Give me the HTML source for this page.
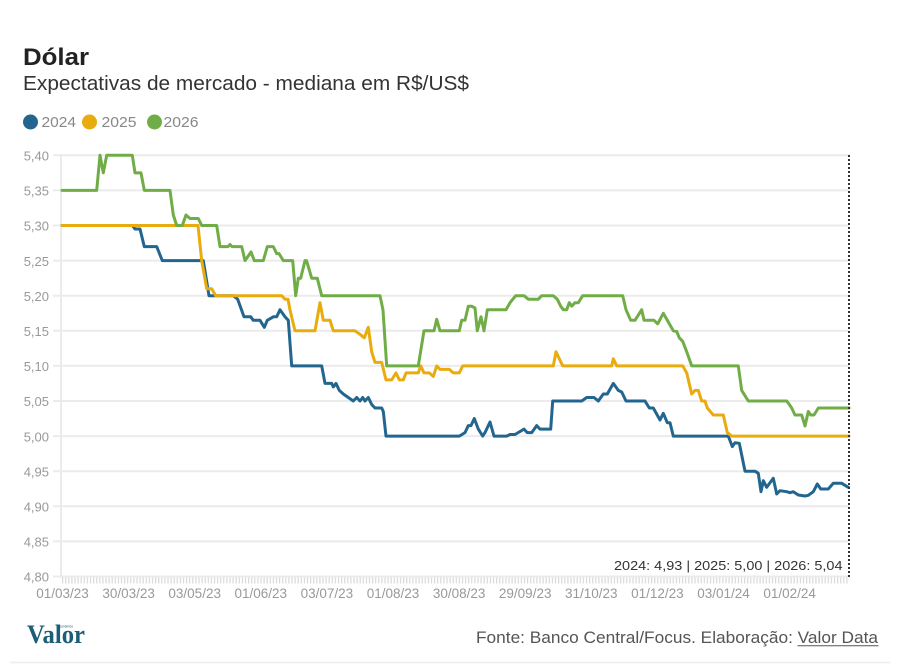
<!DOCTYPE html>
<html><head><meta charset="utf-8"><style>
html,body{margin:0;padding:0;background:#fff;}
svg{display:block;}
text{font-family:"Liberation Sans","DejaVu Sans",sans-serif;}
</style></head><body>
<svg width="919" height="665" viewBox="0 0 919 665" xmlns="http://www.w3.org/2000/svg">
<defs>
<pattern id="tk" x="62" y="0" width="3.1" height="10" patternUnits="userSpaceOnUse"><rect x="0" y="0" width="1.2" height="10" fill="#d9d9d9"/></pattern>
</defs>
<rect width="919" height="665" fill="#fff"/>
<text x="23" y="65" font-size="24" font-weight="bold" fill="#222" textLength="66" lengthAdjust="spacingAndGlyphs">Dólar</text>
<text x="23" y="90" font-size="20" fill="#333" textLength="446" lengthAdjust="spacingAndGlyphs">Expectativas de mercado - mediana em R$/US$</text>
<circle cx="30.5" cy="122" r="7.5" fill="#22668f"/>
<text x="41.5" y="127" font-size="15" fill="#888" textLength="34.5" lengthAdjust="spacingAndGlyphs">2024</text>
<circle cx="89.5" cy="122" r="7.5" fill="#e9ac0f"/>
<text x="101.5" y="127" font-size="15" fill="#888" textLength="35" lengthAdjust="spacingAndGlyphs">2025</text>
<circle cx="154.5" cy="122" r="7.5" fill="#70ad47"/>
<text x="163.5" y="127" font-size="15" fill="#888" textLength="35" lengthAdjust="spacingAndGlyphs">2026</text>
<g stroke="#ebebeb" stroke-width="2">
<line x1="53" x2="849" y1="155.3" y2="155.3"/>
<line x1="53" x2="849" y1="190.4" y2="190.4"/>
<line x1="53" x2="849" y1="225.5" y2="225.5"/>
<line x1="53" x2="849" y1="260.6" y2="260.6"/>
<line x1="53" x2="849" y1="295.7" y2="295.7"/>
<line x1="53" x2="849" y1="330.8" y2="330.8"/>
<line x1="53" x2="849" y1="365.9" y2="365.9"/>
<line x1="53" x2="849" y1="401" y2="401"/>
<line x1="53" x2="849" y1="436.1" y2="436.1"/>
<line x1="53" x2="849" y1="471.2" y2="471.2"/>
<line x1="53" x2="849" y1="506.3" y2="506.3"/>
<line x1="53" x2="849" y1="541.4" y2="541.4"/>
<line x1="53" x2="849" y1="576.5" y2="576.5"/>
<line x1="61" x2="61" y1="154" y2="578"/>
</g>
<rect x="62" y="577.5" width="787" height="6" fill="url(#tk)"/>
<g font-size="13" fill="#999" text-anchor="end">
<text x="49" y="160.5">5,40</text>
<text x="49" y="195.6">5,35</text>
<text x="49" y="230.7">5,30</text>
<text x="49" y="265.8">5,25</text>
<text x="49" y="300.9">5,20</text>
<text x="49" y="336">5,15</text>
<text x="49" y="371.1">5,10</text>
<text x="49" y="406.2">5,05</text>
<text x="49" y="441.3">5,00</text>
<text x="49" y="476.4">4,95</text>
<text x="49" y="511.5">4,90</text>
<text x="49" y="546.6">4,85</text>
<text x="49" y="581.7">4,80</text>
</g>
<g font-size="13.5" fill="#999" text-anchor="middle">
<text x="62.5" y="598">01/03/23</text>
<text x="128.6" y="598">30/03/23</text>
<text x="194.7" y="598">03/05/23</text>
<text x="260.8" y="598">01/06/23</text>
<text x="326.9" y="598">03/07/23</text>
<text x="393" y="598">01/08/23</text>
<text x="459.1" y="598">30/08/23</text>
<text x="525.2" y="598">29/09/23</text>
<text x="591.3" y="598">31/10/23</text>
<text x="657.4" y="598">01/12/23</text>
<text x="723.5" y="598">03/01/24</text>
<text x="789.6" y="598">01/02/24</text>
</g>
<g fill="none" stroke-width="3" stroke-linejoin="round" stroke-linecap="round">
<polyline stroke="#22668f" points="62,225.5 132.3,225.5 135,229 140,229 144.3,246.6 156.7,246.6 162.3,260.6 203.3,260.6 209,295.7 233.3,295.7 237.7,299.2 244,316.8 250.7,316.8 253.3,320.3 260,320.3 264.3,327.3 267.3,320.3 273.3,316.8 276.7,316.8 280,309.7 285,316.8 288.3,320.3 291.7,365.9 321.7,365.9 325,383.4 331.7,383.4 333.3,386.9 336,383.4 339.3,390.4 343.3,394 348.3,397.5 353.3,401 356.7,397.5 360,401 362.7,397.5 365,401 368.3,397.5 371.7,404.5 375,408 381.7,408 383.3,411.5 386,436.1 459.3,436.1 465,432.6 468.3,425.6 471,425.6 474.3,418.5 478.3,429.1 482.7,436.1 485,432.6 490,422 494,436.1 506.7,436.1 510,434.5 515,434.5 524,429.1 527.3,432.6 531.7,432.6 536.7,425.6 540,429.1 550.7,429.1 552.7,401 581.7,401 586.7,397.5 594,397.5 598.3,401 603.3,394 607.3,394 613.3,383.4 618.3,390.4 621.7,392 626,401 645,401 649.3,408 653.3,408 660,420 663.3,413.3 667.3,422.7 670,422.7 673.3,436.1 728.3,436.1 732.3,446.6 735,442.7 739.3,443.3 745,471.2 755,471.2 758.3,473.3 761,491.7 763.3,480.7 766.7,487.3 773.3,478.3 776.7,494 780,490.7 786.7,491.7 790,492.7 793.3,491.7 798.3,495 805,496 808.3,495.3 813.3,491.7 817.3,484 820.7,489 828.3,489 833.3,483.3 841.7,483.3 848.3,487.3"/>
<polyline stroke="#e9ac0f" points="62,225.5 198,225.5 201.7,260.6 206.7,288.7 211.7,288.7 215.7,295.7 281.7,295.7 285,299.2 288,299.2 290,310 295,330.8 315,330.8 320,302.7 323.3,320.3 330,320.3 333.3,330.8 355,330.8 360,334.3 364.3,337.8 368.3,327.3 371.7,351.8 375,362.4 381.7,362.4 386,379.9 391.7,379.9 396,372.9 399.3,379.9 403.3,379.9 406,372.9 418.3,372.9 420.7,365.9 424,372.9 429.3,372.9 433.3,376.4 436.7,365.9 440,369.4 449.3,369.4 453.3,372.9 459.3,372.9 462.7,365.9 553.3,365.9 556,351.8 562.7,365.9 611.7,365.9 613.3,358.8 616.7,365.9 682.7,365.9 686.7,372.9 691.7,394 695,390.4 698.3,390.4 701.7,401 705,401 707.3,408 713.3,415 723.3,415 727.3,432.6 731.7,436.1 849,436.1"/>
<polyline stroke="#70ad47" points="62,190.4 96.7,190.4 100,155.3 103.3,172.9 106.7,155.3 132.3,155.3 135,172.9 141,172.9 144.3,190.4 170,190.4 173.3,215 176.7,225.5 182.3,225.5 186,215 190,218.5 198.3,218.5 201.7,225.5 216.7,225.5 220,246.6 228,246.6 230,244.5 232,246.6 241.7,246.6 245,260.6 251,252 254.3,260.6 263.3,260.6 267.3,246.6 273.3,246.6 276.7,253.6 279,253.6 283.3,260.6 292.7,260.6 295.7,295.7 298.3,278.2 300.7,278.2 305,260.6 306.5,260.6 311.7,278.2 317.3,278.2 321.7,295.7 380,295.7 383,310 386.7,365.9 418.3,365.9 424,330.8 434,330.8 436.7,319.3 440,330.8 459.3,330.8 461.7,320.3 465,320.3 468.3,306.2 471.7,306.2 475,308 477.3,330.8 481,316.8 484,330.8 487.3,309.7 506,309.7 510,302.7 515.7,295.7 524,295.7 528.3,299.2 538.3,299.2 541.7,295.7 553.3,295.7 557.3,299.2 560.7,306.2 563.3,309.7 566.7,309.7 569.3,302.7 571.7,306.2 575,302.7 578.3,302.7 582.7,295.7 622.7,295.7 626,309.7 630.7,320.3 635,320.3 641.7,309.7 644,320.3 654,320.3 657.7,323.8 663.3,313.3 667.3,320.3 673.3,330.8 676.7,331.5 679.3,337.8 682.7,341.3 686.7,351.8 691.7,365.9 738.3,365.9 741.7,390.4 748.3,401 786.7,401 789.3,404.5 791.7,408 795,415 801.7,415 805,426 808.3,411.5 810.7,415 814,415 818.3,408 849,408"/>
</g>
<line x1="849" x2="849" y1="155" y2="578" stroke="#333" stroke-width="2" stroke-dasharray="2,2"/>
<text x="842.5" y="570" font-size="13" fill="#333" text-anchor="end" textLength="228.5" lengthAdjust="spacingAndGlyphs">2024: 4,93 | 2025: 5,00 | 2026: 5,04</text>
<text x="27" y="643" font-family="Liberation Serif,serif" font-size="26" font-weight="bold" fill="#1b5e75" textLength="58" lengthAdjust="spacingAndGlyphs" style="font-family:'Liberation Serif',serif">Valor</text>
<text x="58" y="627.5" font-size="3.5" fill="#1b5e75" textLength="15" lengthAdjust="spacingAndGlyphs">econômico</text>
<text x="476" y="643" font-size="16.5" fill="#555" textLength="402" lengthAdjust="spacingAndGlyphs">Fonte: Banco Central/Focus. Elaboração: Valor Data</text>
<line x1="797.5" x2="878.5" y1="645.8" y2="645.8" stroke="#555" stroke-width="1"/>
<line x1="10" x2="890" y1="662.5" y2="662.5" stroke="#eeeeee" stroke-width="1.5"/>
</svg>
</body></html>
